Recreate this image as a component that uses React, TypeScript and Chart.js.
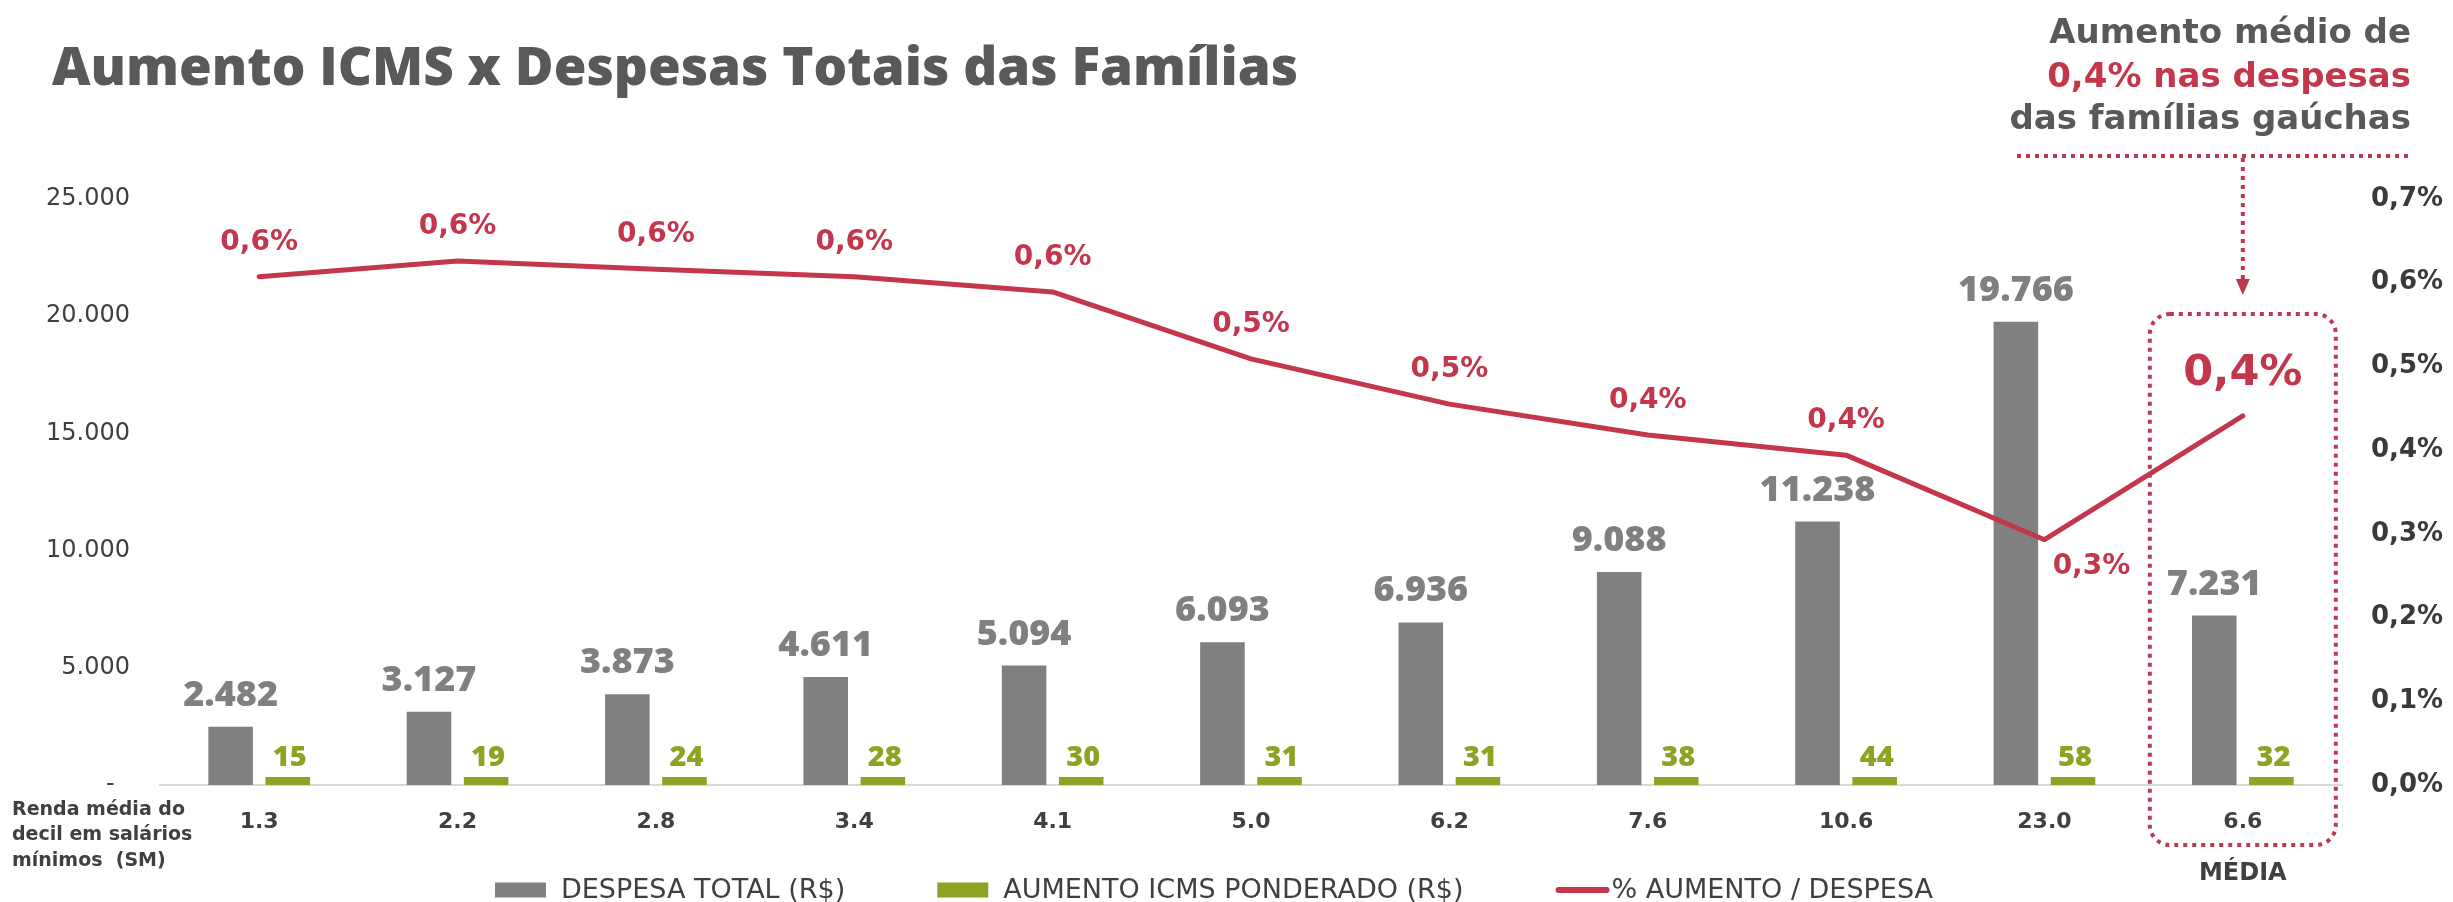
import React, { useEffect, useRef } from 'react';
import { Chart, registerables } from 'chart.js';

Chart.register(...registerables);

// ---------- data ----------
const categories = ['1.3', '2.2', '2.8', '3.4', '4.1', '5.0', '6.2', '7.6', '10.6', '23.0', '6.6'];
const despesaTotal = [2482, 3127, 3873, 4611, 5094, 6093, 6936, 9088, 11238, 19766, 7231];
const aumentoIcms = [15, 19, 24, 28, 30, 31, 31, 38, 44, 58, 32];
const pctAumento = [0.607, 0.626, 0.616, 0.607, 0.589, 0.509, 0.455, 0.418, 0.394, 0.293, 0.441];
const seriesLabels = ['DESPESA TOTAL (R$)', 'AUMENTO ICMS PONDERADO (R$)', '% AUMENTO / DESPESA'];
const chartTitle = 'Aumento ICMS x Despesas Totais das Famílias';
const calloutHead = 'Aumento médio de';
const calloutTail = 'das famílias gaúchas';
const xAxisTitle = ['Renda média do', 'decil em salários', 'mínimos  (SM)'];
const highlightLabel = 'MÉDIA';
const highlightIndex = 10;

// ---------- style ----------
const GRAY = '#808080';
const GREEN = '#8FA224';
const RED = '#C3364B';
const DOT = '#BC3A50';
const DARK = '#595959';
const AXIS = '#404040';
const FONT = '"DejaVu Sans", sans-serif';
const HEAVY = '"Open Sans", "DejaVu Sans", sans-serif';

const fmtThousands = (v: number) => String(Math.round(v)).replace(/\B(?=(\d{3})+(?!\d))/g, '.');
const fmtPct = (v: number) => v.toFixed(1).replace('.', ',') + '%';

function roundRectPath(ctx: CanvasRenderingContext2D, x: number, y: number, w: number, h: number, r: number) {
  ctx.beginPath();
  ctx.moveTo(x + r, y);
  ctx.lineTo(x + w - r, y);
  ctx.arcTo(x + w, y, x + w, y + r, r);
  ctx.lineTo(x + w, y + h - r);
  ctx.arcTo(x + w, y + h, x + w - r, y + h, r);
  ctx.lineTo(x + r, y + h);
  ctx.arcTo(x, y + h, x, y + h - r, r);
  ctx.lineTo(x, y + r);
  ctx.arcTo(x, y, x + r, y, r);
  ctx.closePath();
}

const labelsPlugin = {
  id: 'valueLabels',
  afterDatasetsDraw(chart: any) {
    const ctx: CanvasRenderingContext2D = chart.ctx;
    ctx.save();
    ctx.textAlign = 'center';
    ctx.textBaseline = 'alphabetic';
    // despesa labels
    const m0 = chart.getDatasetMeta(0);
    ctx.fillStyle = GRAY;
    ctx.font = `800 36px ${HEAVY}`;
    m0.data.forEach((el: any, i: number) => {
      ctx.fillText(fmtThousands(chart.data.datasets[0].data[i]), el.x, el.y - 21);
    });
    // aumento labels
    const m1 = chart.getDatasetMeta(1);
    ctx.fillStyle = GREEN;
    ctx.font = `800 29px ${HEAVY}`;
    m1.data.forEach((el: any, i: number) => {
      ctx.fillText(String(chart.data.datasets[1].data[i]), el.x + 2, el.y - 11);
    });
    // pct labels
    const m2 = chart.getDatasetMeta(2);
    ctx.fillStyle = RED;
    m2.data.forEach((el: any, i: number) => {
      const txt = fmtPct(chart.data.datasets[2].data[i]);
      if (i === highlightIndex) {
        ctx.font = `bold 43px ${FONT}`;
        ctx.fillText(txt, el.x, el.y - 31);
      } else if (i === 9) {
        ctx.font = `bold 28px ${FONT}`;
        ctx.fillText(txt, el.x + 47, el.y + 34);
      } else {
        ctx.font = `bold 28px ${FONT}`;
        ctx.fillText(txt, el.x, el.y - 27);
      }
    });
    ctx.restore();
  },
  afterDraw(chart: any) {
    const ctx: CanvasRenderingContext2D = chart.ctx;
    const xs = chart.scales.x;
    const cx = xs.getPixelForValue(highlightIndex);
    ctx.save();
    // title (fitted to the original title width)
    ctx.textBaseline = 'alphabetic';
    ctx.textAlign = 'left';
    ctx.fillStyle = DARK;
    ctx.font = `800 50px ${HEAVY}`;
    const tw = ctx.measureText(chartTitle).width;
    const tsize = Math.min(54, (50 * 1247) / tw);
    ctx.font = `800 ${tsize.toFixed(1)}px ${HEAVY}`;
    ctx.fillText(chartTitle, 52, 85);

    // callout
    ctx.textAlign = 'right';
    ctx.font = `bold 34px ${FONT}`;
    ctx.fillStyle = DARK;
    ctx.fillText(calloutHead, 2411, 43);
    ctx.fillStyle = RED;
    ctx.fillText(`${fmtPct(pctAumento[highlightIndex])} nas despesas`, 2411, 87);
    ctx.fillStyle = DARK;
    ctx.fillText(calloutTail, 2411, 129);

    // dotted connector
    ctx.strokeStyle = DOT;
    ctx.lineWidth = 4;
    ctx.setLineDash([4, 5]);
    ctx.beginPath();
    ctx.moveTo(2017, 156);
    ctx.lineTo(2411, 156);
    ctx.moveTo(cx, 158);
    ctx.lineTo(cx, 280);
    ctx.stroke();
    ctx.setLineDash([]);
    ctx.fillStyle = DOT;
    ctx.beginPath();
    ctx.moveTo(cx - 7, 279);
    ctx.lineTo(cx + 7, 279);
    ctx.lineTo(cx, 295);
    ctx.closePath();
    ctx.fill();

    // highlight box
    ctx.setLineDash([4, 5]);
    roundRectPath(ctx, cx - 93, 314, 186, 531, 20);
    ctx.stroke();
    ctx.setLineDash([]);

    // MÉDIA
    ctx.textAlign = 'center';
    ctx.fillStyle = AXIS;
    ctx.font = `bold 24px ${FONT}`;
    ctx.fillText(highlightLabel, cx, 880);

    // x-axis title
    ctx.textAlign = 'left';
    ctx.font = `bold 19px ${FONT}`;
    const baselines = [815, 840, 866];
    xAxisTitle.forEach((t, i) => ctx.fillText(t, 12, baselines[i]));

    // legend
    ctx.font = `27px ${FONT}`;
    ctx.textBaseline = 'middle';
    const ds = chart.data.datasets;
    const items = ds.map((d: any) => ({
      text: d.label,
      color: d.type === 'line' ? d.borderColor : d.backgroundColor,
      isLine: d.type === 'line',
    }));
    const widths = items.map((it: any) => (it.isLine ? 56 : 66) + ctx.measureText(it.text).width);
    const gap = 92;
    const total = widths.reduce((a: number, b: number) => a + b, 0) + gap * (items.length - 1);
    let x = 1214 - total / 2;
    const ly = 890;
    items.forEach((it: any, i: number) => {
      if (it.isLine) {
        ctx.strokeStyle = it.color;
        ctx.lineWidth = 6;
        ctx.lineCap = 'round';
        ctx.beginPath();
        ctx.moveTo(x + 3, ly);
        ctx.lineTo(x + 51, ly);
        ctx.stroke();
        ctx.fillStyle = AXIS;
        ctx.fillText(it.text, x + 56, ly + 1);
      } else {
        ctx.fillStyle = it.color;
        ctx.fillRect(x, ly - 7.5, 51, 15);
        ctx.fillStyle = AXIS;
        ctx.fillText(it.text, x + 66, ly + 1);
      }
      x += widths[i] + gap;
    });
    ctx.restore();
  },
};

export default function App() {
  const canvasRef = useRef<HTMLCanvasElement | null>(null);

  useEffect(() => {
    if (!canvasRef.current) return;
    Chart.defaults.font.family = FONT;
    const chart = new Chart(canvasRef.current, {
      type: 'bar',
      data: {
        labels: categories,
        datasets: [
          {
            type: 'bar',
            label: seriesLabels[0],
            data: despesaTotal,
            backgroundColor: GRAY,
            yAxisID: 'y',
            order: 1,
            categoryPercentage: 0.576,
            barPercentage: 0.78,
          },
          {
            type: 'bar',
            label: seriesLabels[1],
            data: aumentoIcms,
            backgroundColor: GREEN,
            yAxisID: 'y',
            order: 2,
            minBarLength: 8,
            categoryPercentage: 0.576,
            barPercentage: 0.78,
          },
          {
            type: 'line',
            label: seriesLabels[2],
            data: pctAumento,
            borderColor: RED,
            backgroundColor: RED,
            borderWidth: 5,
            pointRadius: 0,
            tension: 0,
            yAxisID: 'y1',
            order: 0,
            borderCapStyle: 'round',
            borderJoinStyle: 'round',
          },
        ] as any,
      },
      options: {
        responsive: false,
        animation: false,
        layout: { padding: { top: 199, bottom: 57, left: 0, right: 0 } },
        plugins: {
          legend: { display: false },
          title: { display: false },
          tooltip: { enabled: false },
        },
        scales: {
          x: {
            grid: { display: false, drawTicks: false },
            border: { display: true, color: '#D9D9D9', width: 2 },
            ticks: {
              autoSkip: false,
              maxRotation: 0,
              padding: 24,
              color: AXIS,
              font: { family: FONT, size: 22, weight: 'bold' },
            },
            afterFit: (s: any) => { s.height = 60; },
          },
          y: {
            position: 'left',
            min: 0,
            max: 25000,
            grid: { display: false, drawTicks: false },
            border: { display: false },
            ticks: {
              stepSize: 5000,
              padding: 30,
              color: AXIS,
              font: { family: FONT, size: 24 },
              callback: (v: any) => (Number(v) === 0 ? '-  ' : fmtThousands(Number(v))),
            },
            afterFit: (s: any) => { s.width = 160; },
          },
          y1: {
            position: 'right',
            min: 0,
            max: 0.7,
            grid: { display: false, drawTicks: false },
            border: { display: false },
            ticks: {
              stepSize: 0.1,
              padding: 29,
              color: '#3A3A3A',
              font: { family: FONT, size: 26, weight: 'bold' },
              callback: (v: any) => fmtPct(Number(v)),
            },
            afterFit: (s: any) => { s.width = 111; },
          },
        },
      } as any,
      plugins: [labelsPlugin],
    });
    return () => chart.destroy();
  }, []);

  return (
    <div style={{ position: 'absolute', left: 0, top: 0, width: 2453, height: 902, background: '#ffffff' }}>
      <canvas ref={canvasRef} width={2453} height={902} style={{ display: 'block', width: 2453, height: 902 }} />
    </div>
  );
}
